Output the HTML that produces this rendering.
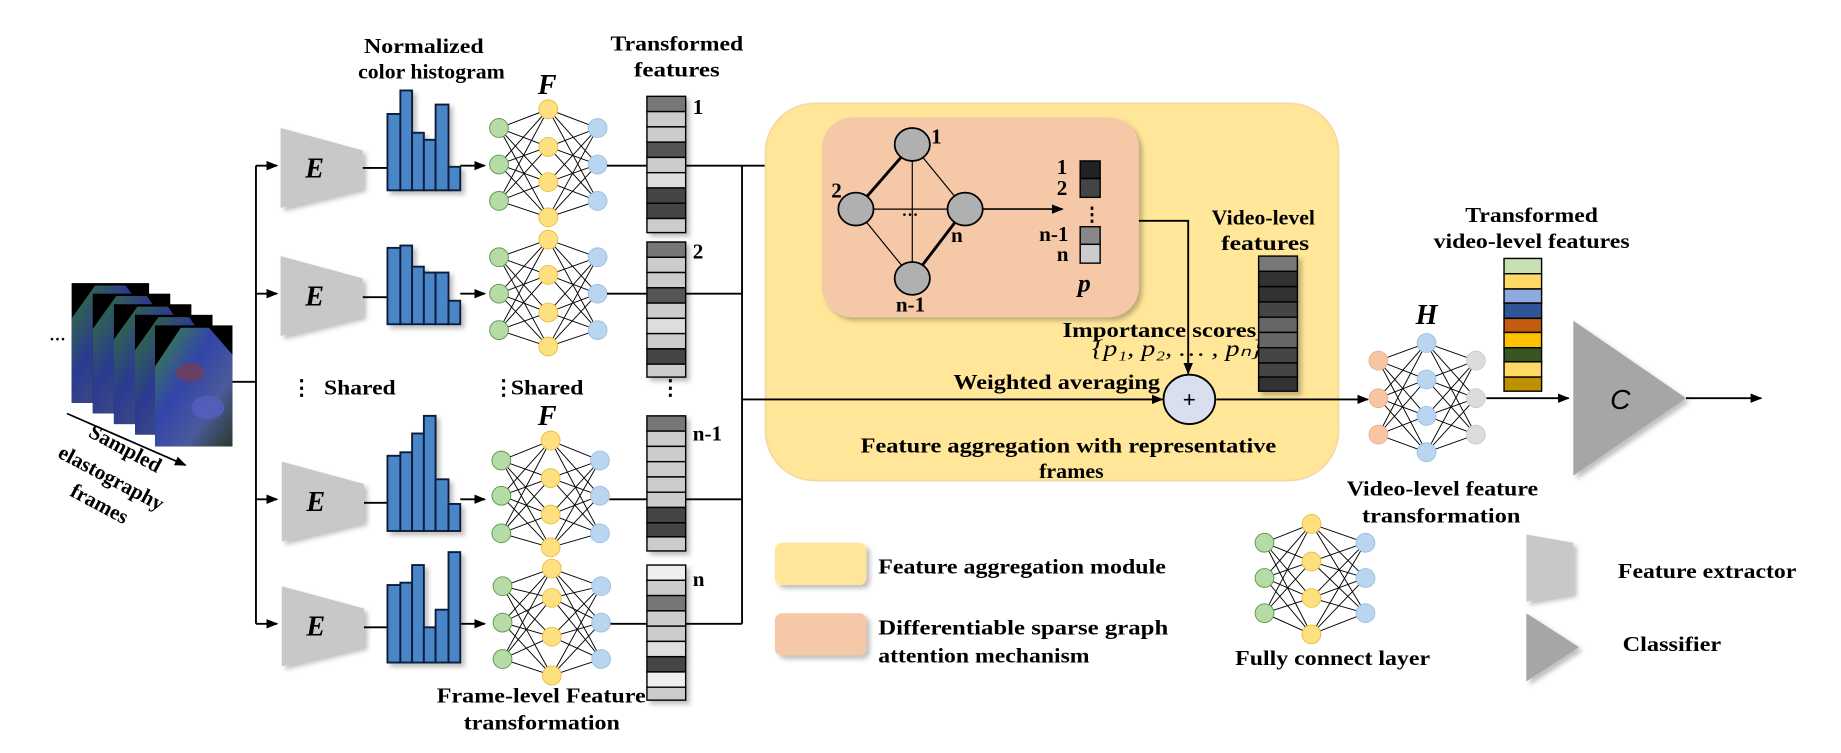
<!DOCTYPE html>
<html><head><meta charset="utf-8"><style>
html,body{margin:0;padding:0;background:#fff;}
svg{display:block;}
text{font-family:"Liberation Serif",serif;font-weight:bold;fill:#000;}
</style></head><body>
<svg width="1841" height="753" viewBox="0 0 1568 641" preserveAspectRatio="none" xmlns="http://www.w3.org/2000/svg">
<defs>
<marker id="ar" markerWidth="10" markerHeight="8" refX="9" refY="4" orient="auto" markerUnits="userSpaceOnUse"><path d="M0,0 L10,4 L0,8 Z" fill="#000"/></marker>
<linearGradient id="fr" x1="0" y1="0" x2="1" y2="1"><stop offset="0" stop-color="#3a8a3a"/><stop offset="0.4" stop-color="#3344aa"/><stop offset="0.7" stop-color="#4a5a9a"/><stop offset="1" stop-color="#2a3a2a"/></linearGradient>
<filter id="sh" x="-20%" y="-20%" width="150%" height="150%"><feDropShadow dx="3" dy="3" stdDeviation="2" flood-color="#000" flood-opacity="0.25"/></filter>
</defs>

<g>
<g transform="translate(61,241)"><rect width="66" height="102" fill="#000"/><path d="M20,2 L46,2 L66,30 L66,102 L0,102 L0,30 Z" fill="url(#fr)" opacity="0.85"/></g>
<g transform="translate(79,250)"><rect width="66" height="102" fill="#000"/><path d="M20,2 L46,2 L66,30 L66,102 L0,102 L0,30 Z" fill="url(#fr)" opacity="0.85"/></g>
<g transform="translate(97,259)"><rect width="66" height="102" fill="#000"/><path d="M20,2 L46,2 L66,30 L66,102 L0,102 L0,30 Z" fill="url(#fr)" opacity="0.85"/></g>
<g transform="translate(115,268)"><rect width="66" height="102" fill="#000"/><path d="M20,2 L46,2 L66,30 L66,102 L0,102 L0,30 Z" fill="url(#fr)" opacity="0.85"/></g>
<g transform="translate(132,277)"><rect width="66" height="103" fill="#000"/><path d="M22,2 L46,2 L66,25 L66,103 L0,103 L0,35 Z" fill="url(#fr)"/><ellipse cx="30" cy="40" rx="12" ry="8" fill="#8a3a3a" opacity="0.6"/><ellipse cx="45" cy="70" rx="14" ry="10" fill="#5560c0" opacity="0.8"/></g>
</g>
<text x="42" y="290" font-size="14">…</text>
<line x1="57" y1="352" x2="158" y2="396" stroke="#000" stroke-width="1.5" marker-end="url(#ar)"/>
<g font-size="18" text-anchor="middle">
<text transform="translate(104,387) rotate(28)">Sampled</text>
<text transform="translate(92,412) rotate(28)">elastography</text>
<text transform="translate(82,434) rotate(28)">frames</text>
</g>

<g stroke="#000" stroke-width="1.6" fill="none">
<line x1="198" y1="325" x2="218" y2="325"/>
<line x1="218" y1="141" x2="218" y2="531"/>
<line x1="218" y1="141" x2="236" y2="141" marker-end="url(#ar)"/>
<line x1="218" y1="250" x2="236" y2="250" marker-end="url(#ar)"/>
<line x1="218" y1="425" x2="236" y2="425" marker-end="url(#ar)"/>
<line x1="218" y1="531" x2="236" y2="531" marker-end="url(#ar)"/>
</g>

<g id="rows">
<g filter="url(#sh)" fill="#c8c8c8">
<polygon points="239,109 309,128 309,160 239,177"/>
<polygon points="239,218 309,237 309,269 239,286"/>
<polygon points="240,393 310,412 310,444 240,461"/>
<polygon points="240,499 310,518 310,550 240,567"/>
</g>
<g font-size="24" font-style="italic" text-anchor="middle">
<text x="268" y="151">E</text><text x="268" y="260">E</text><text x="269" y="435">E</text><text x="269" y="541">E</text>
</g>
<g stroke="#000" stroke-width="1.6">
<line x1="309" y1="143" x2="330" y2="143"/><line x1="309" y1="253" x2="330" y2="253"/>
<line x1="310" y1="428" x2="330" y2="428"/><line x1="310" y1="534" x2="330" y2="534"/>
<line x1="392" y1="141" x2="413" y2="141" marker-end="url(#ar)"/>
<line x1="392" y1="250" x2="413" y2="250" marker-end="url(#ar)"/>
<line x1="392" y1="425" x2="413" y2="425" marker-end="url(#ar)"/>
<line x1="392" y1="531" x2="413" y2="531" marker-end="url(#ar)"/>
</g>
<g fill="#4a86c8" stroke="#0a1a3a" stroke-width="1.6" filter="url(#sh)">
<rect x="330" y="97" width="11" height="65"/><rect x="341" y="77" width="10" height="85"/><rect x="351" y="113" width="10" height="49"/><rect x="361" y="119" width="10" height="43"/><rect x="371" y="89" width="11" height="73"/><rect x="382" y="142" width="10" height="20"/>
<rect x="330" y="211" width="11" height="65"/><rect x="341" y="209" width="10" height="67"/><rect x="351" y="227" width="10" height="49"/><rect x="361" y="232" width="10" height="44"/><rect x="371" y="232" width="11" height="44"/><rect x="382" y="256" width="10" height="20"/>
<rect x="330" y="388" width="11" height="64"/><rect x="341" y="385" width="10" height="67"/><rect x="351" y="369" width="10" height="83"/><rect x="361" y="354" width="10" height="98"/><rect x="371" y="408" width="11" height="44"/><rect x="382" y="429" width="10" height="23"/>
<rect x="330" y="498" width="11" height="66"/><rect x="341" y="496" width="10" height="68"/><rect x="351" y="481" width="10" height="83"/><rect x="361" y="534" width="10" height="30"/><rect x="371" y="519" width="11" height="45"/><rect x="382" y="470" width="10" height="94"/>
</g>
</g>

<g id="nns" stroke="#000" stroke-width="0.8">
<g>
<path d="M425,109L467,93M425,109L467,125M425,109L467,155M425,109L467,185M425,140L467,93M425,140L467,125M425,140L467,155M425,140L467,185M425,171L467,93M425,171L467,125M425,171L467,155M425,171L467,185M509,109L467,93M509,109L467,125M509,109L467,155M509,109L467,185M509,140L467,93M509,140L467,125M509,140L467,155M509,140L467,185M509,171L467,93M509,171L467,125M509,171L467,155M509,171L467,185"/>
<g fill="#b7dba6" stroke="#5a9a4a"><circle cx="425" cy="109" r="8"/><circle cx="425" cy="140" r="8"/><circle cx="425" cy="171" r="8"/></g>
<g fill="#ffe080" stroke="#e8c040"><circle cx="467" cy="93" r="8"/><circle cx="467" cy="125" r="8"/><circle cx="467" cy="155" r="8"/><circle cx="467" cy="185" r="8"/></g>
<g fill="#b9d5f0" stroke="#9ec0e0"><circle cx="509" cy="109" r="8"/><circle cx="509" cy="140" r="8"/><circle cx="509" cy="171" r="8"/></g>
</g>
<g>
<path d="M425,219L467,204M425,219L467,234M425,219L467,266M425,219L467,295M425,250L467,204M425,250L467,234M425,250L467,266M425,250L467,295M425,281L467,204M425,281L467,234M425,281L467,266M425,281L467,295M509,219L467,204M509,219L467,234M509,219L467,266M509,219L467,295M509,250L467,204M509,250L467,234M509,250L467,266M509,250L467,295M509,281L467,204M509,281L467,234M509,281L467,266M509,281L467,295"/>
<g fill="#b7dba6" stroke="#5a9a4a"><circle cx="425" cy="219" r="8"/><circle cx="425" cy="250" r="8"/><circle cx="425" cy="281" r="8"/></g>
<g fill="#ffe080" stroke="#e8c040"><circle cx="467" cy="204" r="8"/><circle cx="467" cy="234" r="8"/><circle cx="467" cy="266" r="8"/><circle cx="467" cy="295" r="8"/></g>
<g fill="#b9d5f0" stroke="#9ec0e0"><circle cx="509" cy="219" r="8"/><circle cx="509" cy="250" r="8"/><circle cx="509" cy="281" r="8"/></g>
</g>
<g>
<path d="M427,392L469,375M427,392L469,407M427,392L469,438M427,392L469,466M427,422L469,375M427,422L469,407M427,422L469,438M427,422L469,466M427,454L469,375M427,454L469,407M427,454L469,438M427,454L469,466M511,392L469,375M511,392L469,407M511,392L469,438M511,392L469,466M511,422L469,375M511,422L469,407M511,422L469,438M511,422L469,466M511,454L469,375M511,454L469,407M511,454L469,438M511,454L469,466"/>
<g fill="#b7dba6" stroke="#5a9a4a"><circle cx="427" cy="392" r="8"/><circle cx="427" cy="422" r="8"/><circle cx="427" cy="454" r="8"/></g>
<g fill="#ffe080" stroke="#e8c040"><circle cx="469" cy="375" r="8"/><circle cx="469" cy="407" r="8"/><circle cx="469" cy="438" r="8"/><circle cx="469" cy="466" r="8"/></g>
<g fill="#b9d5f0" stroke="#9ec0e0"><circle cx="511" cy="392" r="8"/><circle cx="511" cy="422" r="8"/><circle cx="511" cy="454" r="8"/></g>
</g>
<g>
<path d="M428,499L470,484M428,499L470,509M428,499L470,542M428,499L470,575M428,530L470,484M428,530L470,509M428,530L470,542M428,530L470,575M428,561L470,484M428,561L470,509M428,561L470,542M428,561L470,575M512,499L470,484M512,499L470,509M512,499L470,542M512,499L470,575M512,530L470,484M512,530L470,509M512,530L470,542M512,530L470,575M512,561L470,484M512,561L470,509M512,561L470,542M512,561L470,575"/>
<g fill="#b7dba6" stroke="#5a9a4a"><circle cx="428" cy="499" r="8"/><circle cx="428" cy="530" r="8"/><circle cx="428" cy="561" r="8"/></g>
<g fill="#ffe080" stroke="#e8c040"><circle cx="470" cy="484" r="8"/><circle cx="470" cy="509" r="8"/><circle cx="470" cy="542" r="8"/><circle cx="470" cy="575" r="8"/></g>
<g fill="#b9d5f0" stroke="#9ec0e0"><circle cx="512" cy="499" r="8"/><circle cx="512" cy="530" r="8"/><circle cx="512" cy="561" r="8"/></g>
</g>
</g>

<g stroke="#000" stroke-width="1.6">
<line x1="517" y1="141" x2="551" y2="141"/><line x1="517" y1="250" x2="551" y2="250"/>
<line x1="519" y1="425" x2="551" y2="425"/><line x1="520" y1="531" x2="551" y2="531"/>
<line x1="584" y1="141" x2="632" y2="141"/><line x1="584" y1="250" x2="632" y2="250"/>
<line x1="584" y1="425" x2="632" y2="425"/><line x1="584" y1="531" x2="632" y2="531"/>
<line x1="632" y1="141" x2="632" y2="531"/>
<line x1="632" y1="141" x2="696" y2="141" marker-end="url(#ar)"/>
</g>

<g stroke="#000" stroke-width="1.2" filter="url(#sh)">
<g transform="translate(551,82)"><rect y="0" width="33" height="13" fill="#777"/><rect y="13" width="33" height="13" fill="#ccc"/><rect y="26" width="33" height="13" fill="#ccc"/><rect y="39" width="33" height="13" fill="#555"/><rect y="52" width="33" height="13" fill="#ccc"/><rect y="65" width="33" height="13" fill="#ddd"/><rect y="78" width="33" height="13" fill="#444"/><rect y="91" width="33" height="13" fill="#444"/><rect y="104" width="33" height="12" fill="#ccc"/></g>
<g transform="translate(551,206)"><rect y="0" width="33" height="13" fill="#777"/><rect y="13" width="33" height="13" fill="#ccc"/><rect y="26" width="33" height="13" fill="#ccc"/><rect y="39" width="33" height="13" fill="#555"/><rect y="52" width="33" height="13" fill="#ccc"/><rect y="65" width="33" height="13" fill="#ddd"/><rect y="78" width="33" height="13" fill="#ccc"/><rect y="91" width="33" height="13" fill="#444"/><rect y="104" width="33" height="11" fill="#ccc"/></g>
<g transform="translate(551,354)"><rect y="0" width="33" height="13" fill="#777"/><rect y="13" width="33" height="13" fill="#ccc"/><rect y="26" width="33" height="13" fill="#ccc"/><rect y="39" width="33" height="13" fill="#ccc"/><rect y="52" width="33" height="13" fill="#ccc"/><rect y="65" width="33" height="13" fill="#ccc"/><rect y="78" width="33" height="13" fill="#444"/><rect y="91" width="33" height="12" fill="#444"/><rect y="103" width="33" height="12" fill="#ccc"/></g>
<g transform="translate(551,481)"><rect y="0" width="33" height="13" fill="#eee"/><rect y="13" width="33" height="13" fill="#ccc"/><rect y="26" width="33" height="13" fill="#777"/><rect y="39" width="33" height="13" fill="#ccc"/><rect y="52" width="33" height="13" fill="#ccc"/><rect y="65" width="33" height="13" fill="#ddd"/><rect y="78" width="33" height="13" fill="#444"/><rect y="91" width="33" height="13" fill="#eee"/><rect y="104" width="33" height="11" fill="#ccc"/></g>
</g>
<g font-size="18">
<text x="590" y="97">1</text><text x="590" y="220">2</text><text x="590" y="375">n-1</text><text x="590" y="499">n</text>
<text x="562" y="336">⋮</text>
</g>

<g font-size="18">
<text x="310" y="45" textLength="102" lengthAdjust="spacingAndGlyphs">Normalized</text>
<text x="305" y="67" textLength="125" lengthAdjust="spacingAndGlyphs">color histogram</text>
<text x="520" y="43" textLength="113" lengthAdjust="spacingAndGlyphs">Transformed</text>
<text x="540" y="65" textLength="73" lengthAdjust="spacingAndGlyphs">features</text>
<text x="372" y="598" textLength="178" lengthAdjust="spacingAndGlyphs">Frame-level Feature</text>
<text x="395" y="621" textLength="133" lengthAdjust="spacingAndGlyphs">transformation</text>
</g>
<g font-size="24" font-style="italic" text-anchor="middle">
<text x="466" y="80">F</text>
<text x="466" y="362">F</text>
</g>
<g font-size="18">
<text x="248" y="336">⋮</text><text x="276" y="336" textLength="61" lengthAdjust="spacingAndGlyphs">Shared</text>
<text x="420" y="336">⋮</text><text x="435" y="336" textLength="62" lengthAdjust="spacingAndGlyphs">Shared</text>
</g>

<rect x="652" y="88" width="488" height="321" rx="42" fill="#ffe699" stroke="#f6d9a0" stroke-width="1.5"/>
<rect x="700" y="100" width="270" height="170" rx="26" fill="#f5c9a8" filter="url(#sh)"/>
<g stroke="#000">
<line x1="777" y1="123" x2="729" y2="178" stroke-width="2.5"/>
<line x1="777" y1="123" x2="822" y2="178" stroke-width="1"/>
<line x1="729" y1="178" x2="822" y2="178" stroke-width="1"/>
<line x1="777" y1="123" x2="777" y2="237" stroke-width="1"/>
<line x1="729" y1="178" x2="777" y2="237" stroke-width="1"/>
<line x1="822" y1="178" x2="777" y2="237" stroke-width="2.5"/>
<g fill="#b0b0b0" stroke-width="1.5"><ellipse cx="777" cy="123" rx="15" ry="14"/><ellipse cx="729" cy="178" rx="15" ry="14"/><ellipse cx="822" cy="178" rx="15" ry="14"/><ellipse cx="777" cy="237" rx="15" ry="14"/></g>
<line x1="837" y1="178" x2="905" y2="178" stroke-width="1.4" marker-end="url(#ar)"/>
<polyline points="970,188 1012,188 1012,318" fill="none" stroke-width="1.6" marker-end="url(#ar)"/>
<line x1="632" y1="340" x2="990" y2="340" stroke-width="1.6" marker-end="url(#ar)"/>
<line x1="1036" y1="340" x2="1165" y2="340" stroke-width="1.6" marker-end="url(#ar)"/>
</g>
<g font-size="18">
<text x="793" y="122">1</text><text x="708" y="168">2</text><text x="810" y="206">n</text><text x="763" y="265">n-1</text>
<text x="768" y="184" font-size="14">…</text>
<text x="900" y="148">1</text><text x="900" y="166">2</text>
<text x="885" y="205">n-1</text><text x="900" y="222">n</text>
<text x="918" y="248" font-size="22" font-style="italic">p</text>
<text x="922" y="188" font-size="16">⋮</text>
</g>
<g stroke="#000" stroke-width="1.2">
<rect x="920" y="137" width="17" height="15" fill="#222"/><rect x="920" y="152" width="17" height="16" fill="#444"/>
<rect x="920" y="193" width="17" height="15" fill="#888"/><rect x="920" y="208" width="17" height="16" fill="#ccc"/>
</g>
<ellipse cx="1013" cy="340" rx="22" ry="21" fill="#d9dfee" stroke="#000" stroke-width="1.6"/>
<text x="1013" y="347" font-size="20" text-anchor="middle">+</text>
<g font-size="18">
<text x="905" y="287" textLength="165" lengthAdjust="spacingAndGlyphs">Importance scores</text>
<text x="812" y="331" textLength="176" lengthAdjust="spacingAndGlyphs">Weighted averaging</text>
<text x="733" y="385" textLength="354" lengthAdjust="spacingAndGlyphs">Feature aggregation with representative</text>
<text x="885" y="407" textLength="55" lengthAdjust="spacingAndGlyphs">frames</text>
<text x="1032" y="191" textLength="88" lengthAdjust="spacingAndGlyphs">Video-level</text>
<text x="1040" y="213" textLength="75" lengthAdjust="spacingAndGlyphs">features</text>
</g>
<text x="930" y="303" font-size="20" font-style="italic" textLength="145" lengthAdjust="spacingAndGlyphs" style="font-weight:normal">{p₁, p₂, … , pₙ}</text>

<g stroke="#000" stroke-width="1.2" filter="url(#sh)">
<rect x="1072" y="218" width="33" height="13" fill="#777"/><rect x="1072" y="231" width="33" height="13" fill="#333"/><rect x="1072" y="244" width="33" height="13" fill="#333"/><rect x="1072" y="257" width="33" height="13" fill="#444"/><rect x="1072" y="270" width="33" height="13" fill="#666"/><rect x="1072" y="283" width="33" height="13" fill="#666"/><rect x="1072" y="296" width="33" height="13" fill="#444"/><rect x="1072" y="309" width="33" height="12" fill="#444"/><rect x="1072" y="321" width="33" height="12" fill="#333"/>
</g>

<g stroke="#000" stroke-width="0.8">
<path d="M1174,307L1215,292M1174,307L1215,323M1174,307L1215,354M1174,307L1215,385M1174,339L1215,292M1174,339L1215,323M1174,339L1215,354M1174,339L1215,385M1174,370L1215,292M1174,370L1215,323M1174,370L1215,354M1174,370L1215,385M1257,307L1215,292M1257,307L1215,323M1257,307L1215,354M1257,307L1215,385M1257,339L1215,292M1257,339L1215,323M1257,339L1215,354M1257,339L1215,385M1257,370L1215,292M1257,370L1215,323M1257,370L1215,354M1257,370L1215,385"/>
<g fill="#f7c4a4" stroke="#f0b090"><circle cx="1174" cy="307" r="8"/><circle cx="1174" cy="339" r="8"/><circle cx="1174" cy="370" r="8"/></g>
<g fill="#b9d5f0" stroke="#9ec0e0"><circle cx="1215" cy="292" r="8"/><circle cx="1215" cy="323" r="8"/><circle cx="1215" cy="354" r="8"/><circle cx="1215" cy="385" r="8"/></g>
<g fill="#dcdcdc" stroke="#ccc"><circle cx="1257" cy="307" r="8"/><circle cx="1257" cy="339" r="8"/><circle cx="1257" cy="370" r="8"/></g>
</g>
<text x="1215" y="276" font-size="24" font-style="italic" text-anchor="middle">H</text>
<line x1="1266" y1="339" x2="1336" y2="339" stroke="#000" stroke-width="1.6" marker-end="url(#ar)"/>
<g stroke="#000" stroke-width="1.2">
<rect x="1281" y="220" width="32" height="13" fill="#c6e0b4"/><rect x="1281" y="233" width="32" height="13" fill="#ffd966"/><rect x="1281" y="246" width="32" height="12" fill="#8faadc"/><rect x="1281" y="258" width="32" height="13" fill="#2f5597"/><rect x="1281" y="271" width="32" height="12" fill="#c55a11"/><rect x="1281" y="283" width="32" height="13" fill="#ffc000"/><rect x="1281" y="296" width="32" height="12" fill="#375623"/><rect x="1281" y="308" width="32" height="13" fill="#ffd966"/><rect x="1281" y="321" width="32" height="12" fill="#bf9000"/>
</g>
<g font-size="18">
<text x="1248" y="189" textLength="113" lengthAdjust="spacingAndGlyphs">Transformed</text>
<text x="1221" y="211" textLength="167" lengthAdjust="spacingAndGlyphs">video-level features</text>
<text x="1147" y="422" textLength="163" lengthAdjust="spacingAndGlyphs">Video-level feature</text>
<text x="1160" y="445" textLength="135" lengthAdjust="spacingAndGlyphs">transformation</text>
</g>
<polygon points="1340,273 1436,339 1340,405" fill="#a8a5a5" filter="url(#sh)"/>
<text x="1380" y="348" font-size="24" font-style="italic" text-anchor="middle" style="font-weight:normal;font-family:'Liberation Sans',sans-serif">C</text>
<line x1="1436" y1="339" x2="1500" y2="339" stroke="#000" stroke-width="1.6" marker-end="url(#ar)"/>

<rect x="660" y="462" width="78" height="36" rx="6" fill="#ffe699" filter="url(#sh)"/>
<rect x="660" y="522" width="78" height="36" rx="6" fill="#f5c9a8" filter="url(#sh)"/>
<g font-size="18">
<text x="748" y="488" textLength="245" lengthAdjust="spacingAndGlyphs">Feature aggregation module</text>
<text x="748" y="540" textLength="247" lengthAdjust="spacingAndGlyphs">Differentiable  sparse graph</text>
<text x="748" y="564" textLength="180" lengthAdjust="spacingAndGlyphs">attention mechanism</text>
<text x="1378" y="492" textLength="152" lengthAdjust="spacingAndGlyphs">Feature extractor</text>
<text x="1382" y="554" textLength="84" lengthAdjust="spacingAndGlyphs">Classifier</text>
<text x="1052" y="566" textLength="166" lengthAdjust="spacingAndGlyphs">Fully connect layer</text>
</g>
<g stroke="#000" stroke-width="0.8">
<path d="M1077,462L1117,446M1077,462L1117,478M1077,462L1117,509M1077,462L1117,540M1077,492L1117,446M1077,492L1117,478M1077,492L1117,509M1077,492L1117,540M1077,522L1117,446M1077,522L1117,478M1077,522L1117,509M1077,522L1117,540M1163,462L1117,446M1163,462L1117,478M1163,462L1117,509M1163,462L1117,540M1163,492L1117,446M1163,492L1117,478M1163,492L1117,509M1163,492L1117,540M1163,522L1117,446M1163,522L1117,478M1163,522L1117,509M1163,522L1117,540"/>
<g fill="#b7dba6" stroke="#5a9a4a"><circle cx="1077" cy="462" r="8"/><circle cx="1077" cy="492" r="8"/><circle cx="1077" cy="522" r="8"/></g>
<g fill="#ffe080" stroke="#e8c040"><circle cx="1117" cy="446" r="8"/><circle cx="1117" cy="478" r="8"/><circle cx="1117" cy="509" r="8"/><circle cx="1117" cy="540" r="8"/></g>
<g fill="#b9d5f0" stroke="#9ec0e0"><circle cx="1163" cy="462" r="8"/><circle cx="1163" cy="492" r="8"/><circle cx="1163" cy="522" r="8"/></g>
</g>
<polygon points="1300,455 1340,462 1340,505 1300,512" fill="#c8c8c8" filter="url(#sh)"/>
<polygon points="1300,522 1345,551 1300,580" fill="#a8a5a5" filter="url(#sh)"/>
</svg>
</body></html>
